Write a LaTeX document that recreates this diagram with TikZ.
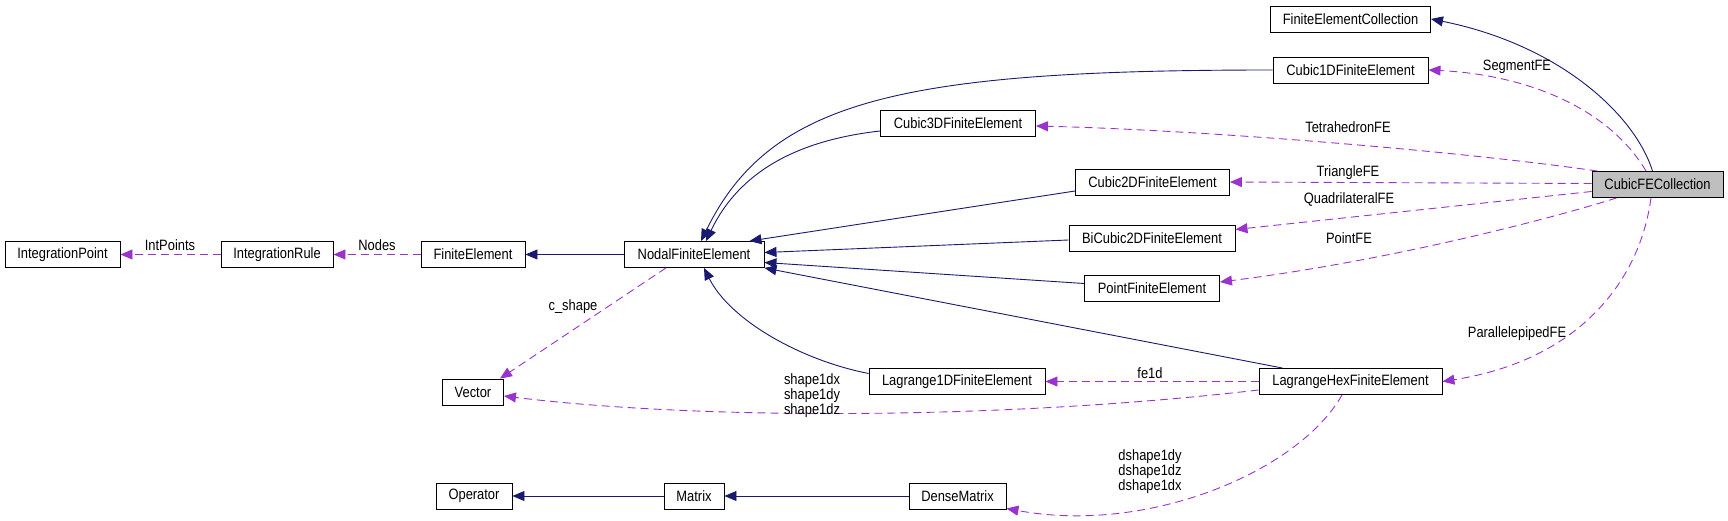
\documentclass[tikz,border=0pt]{standalone}
\usepackage{fontspec}
\setmainfont{Liberation Sans}[FakeStretch=0.86]
\usetikzlibrary{arrows.meta}
\definecolor{dxnavy}{HTML}{191970}
\definecolor{dxpurple}{HTML}{9A32CD}
\definecolor{dxgray}{HTML}{BFBFBF}
\tikzset{
  box/.style={draw=black, line width=0.9pt, minimum height=26pt, inner sep=0pt, font=\fontsize{15}{15}\selectfont},
  inh/.style={draw=dxnavy, line width=0.9pt, -{Triangle[length=12pt,width=10pt]}},
  uses/.style={draw=dxpurple, line width=0.9pt, dash pattern=on 8pt off 5pt, -{Triangle[length=12pt,width=10pt]}},
  lbl/.style={inner sep=0pt, align=center, font=\fontsize{15}{15}\selectfont},
}
\begin{document}
\begin{tikzpicture}[x=1pt,y=-1pt]
\useasboundingbox (0,0) rectangle (1728,521);
% nodes
\node[box, minimum width=115pt] (ip) at (62.5,254.5) {IntegrationPoint};
\node[box, minimum width=112pt] (ir) at (277,254.5) {IntegrationRule};
\node[box, minimum width=104pt] (fe) at (473,254.5) {FiniteElement};
\node[box, minimum width=140pt] (nfe) at (694,254.5) {NodalFiniteElement};
\node[box, minimum width=61pt] (vec) at (473,392) {Vector};
\node[box, minimum width=76pt] (op) at (474,496) {Operator};
\node[box, minimum width=60pt] (mat) at (694,496) {Matrix};
\node[box, minimum width=97pt] (dm) at (957.5,496) {DenseMatrix};
\node[box, minimum width=176pt] (l1d) at (957,381.5) {Lagrange1DFiniteElement};
\node[box, minimum width=183pt] (lhex) at (1350.5,381.5) {LagrangeHexFiniteElement};
\node[box, minimum width=135pt] (pfe) at (1152,288.5) {PointFiniteElement};
\node[box, minimum width=166pt] (bic) at (1152,238) {BiCubic2DFiniteElement};
\node[box, minimum width=154pt] (c2d) at (1152.5,182) {Cubic2DFiniteElement};
\node[box, minimum width=155pt] (c3d) at (958,123) {Cubic3DFiniteElement};
\node[box, minimum width=155pt] (c1d) at (1350.5,70) {Cubic1DFiniteElement};
\node[box, minimum width=160pt] (fec) at (1350.5,19) {FiniteElementCollection};
\node[box, minimum width=131pt, fill=dxgray] (cfc) at (1657.5,184.5) {CubicFECollection};
% inheritance
\draw[inh] (nfe.west) -- (fe.east);
\draw[inh] (mat.west) -- (op.east);
\draw[inh] (dm.west) -- (mat.east);
\draw[inh] (c1d.west) .. controls (900,70) and (770,100) .. ([xshift=7pt]nfe.north);
\draw[inh] ([yshift=-8pt]c3d.west) .. controls (800,140) and (740,170) .. ([xshift=12pt]nfe.north);
\draw[inh] ([yshift=-9pt]c2d.west) -- ([xshift=-15pt]nfe.north east);
\draw[inh] ([yshift=-2pt]bic.west) -- ([yshift=2pt]nfe.east);
\draw[inh] ([yshift=5pt]pfe.west) -- ([yshift=-8pt]nfe.east);
\draw[inh] ([xshift=-68pt]lhex.north) -- (nfe.south east);
\draw[inh] ([yshift=8pt]l1d.west) .. controls (800,360) and (730,320) .. ([xshift=10pt]nfe.south);
\draw[inh] ([xshift=-5pt]cfc.north) .. controls (1635,115) and (1560,45) .. (fec.east);
% usage
\draw[uses] (fe.west) -- (ir.east);
\draw[uses] (ir.west) -- (ip.east);
\draw[uses] ([xshift=-28pt]nfe.south) -- ([xshift=27pt]vec.north);
\draw[uses] ([yshift=-8.5pt]lhex.west) .. controls (1000,420) and (700,420) .. ([yshift=-4pt]vec.east);
\draw[uses] (lhex.west) -- (l1d.east);
\draw[uses] ([xshift=-8.5pt]lhex.south) .. controls (1300,470) and (1150,535) .. ([yshift=1pt]dm.south east);
\draw[uses] ([xshift=-11.5pt]cfc.north) .. controls (1610,110) and (1530,75) .. (c1d.east);
\draw[uses] ([xshift=6pt]cfc.north west) .. controls (1450,150) and (1200,130) .. ([yshift=-3pt]c3d.east);
\draw[uses] ([yshift=1pt]cfc.west) -- (c2d.east);
\draw[uses] ([yshift=-7pt]cfc.west) -- ([yshift=8.5pt]bic.east);
\draw[uses] ([xshift=25pt]cfc.south west) .. controls (1540,222) and (1380,262) .. ([yshift=6.5pt]pfe.east);
\draw[uses] ([xshift=-6.5pt]cfc.south) .. controls (1640,280) and (1580,360) .. (lhex.east);
% labels
\node[lbl] (lintpoints) at (170,245) {IntPoints};
\node[lbl] (lnodes) at (377,245) {Nodes};
\node[lbl] (lcshape) at (573,307) {c\_shape};
\node[lbl] (lshape) at (812,396) {shape1dx\\shape1dy\\shape1dz};
\node[lbl] (lfe1d) at (1150,373) {fe1d};
\node[lbl] (ldshape) at (1150,472) {dshape1dy\\dshape1dz\\dshape1dx};
\node[lbl] (lseg) at (1517,67) {SegmentFE};
\node[lbl] (ltet) at (1348,127) {TetrahedronFE};
\node[lbl] (ltri) at (1348,173) {TriangleFE};
\node[lbl] (lquad) at (1349,199) {QuadrilateralFE};
\node[lbl] (lpt) at (1349,238) {PointFE};
\node[lbl] (lpar) at (1517,334) {ParallelepipedFE};
\end{tikzpicture}
\end{document}
